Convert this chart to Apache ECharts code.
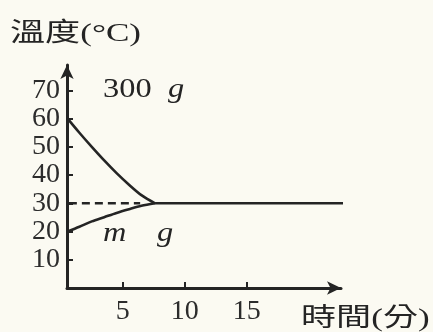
<!DOCTYPE html>
<html>
<head>
<meta charset="utf-8">
<script src="https://cdn.jsdelivr.net/npm/echarts@6/dist/echarts.min.js"></script>
<style>
  html, body { margin: 0; padding: 0; background: #fbfaf2; }
  #chart { width: 433px; height: 332px; }
</style>
</head>
<body>
<div id="chart"></div>
<script>
// Tick values shown on each axis
const timeTicks = [5, 10, 15];
const tempTicks = [10, 20, 30, 40, 50, 60, 70];

// Sample times (minutes) for the two cooling / warming curves
const sampleTime = [0.55, 1.5, 2.5, 3.5, 4.5, 5.5, 6.5, 7.6];

// Hot water (300 g) cooling from 60 °C toward the final temperature
const hotTemp = [60, 55.0, 50.0, 45.2, 40.7, 36.6, 32.9, 30];

// Cold water (m g) warming from 20 °C toward the final temperature
const coldTemp = [20, 21.7, 23.6, 25.1, 26.6, 27.9, 29.1, 30];

// Both bodies of water held at the final temperature
const finalTime = [7.6, 23.1];
const finalTemp = [30, 30];

// Dashed reference at the equilibrium temperature
const refTime = [0.65, 6.4];
const refTemp = [30, 30];

const ink = '#242424';
const serif = "'Liberation Serif', 'Noto Sans CJK TC', serif";

const pairs = (xs, ys) => xs.map((x, i) => [x, ys[i]]);

const chart = echarts.init(document.getElementById('chart'), null, { renderer: 'canvas' });

const axisCommon = {
  type: 'value',
  splitLine: { show: false },
  axisLine: {
    show: true,
    lineStyle: { color: ink, width: 3 },
    symbol: ['none', 'arrow'],
    symbolSize: [10, 14]
  },
  axisTick: { show: true, inside: true, length: 6, lineStyle: { color: ink, width: 2 } },
  axisLabel: { color: '#2c2c2c', fontFamily: serif, fontSize: 28 }
};

const curve = (data, extra) => Object.assign({
  type: 'line',
  data: data,
  symbol: 'none',
  clip: false,
  lineStyle: { color: ink, width: 2.6 }
}, extra);

chart.setOption({
  backgroundColor: '#fbfaf2',
  animation: false,
  grid: { left: 67, right: 92, top: 65, bottom: 44, containLabel: false },
  xAxis: Object.assign({}, axisCommon, {
    min: 0.5,
    max: 22.6,
    axisTick: Object.assign({}, axisCommon.axisTick, { customValues: timeTicks }),
    axisLabel: Object.assign({}, axisCommon.axisLabel, { customValues: timeTicks, margin: 10 })
  }),
  yAxis: Object.assign({}, axisCommon, {
    min: 0,
    max: 79,
    axisTick: Object.assign({}, axisCommon.axisTick, { customValues: tempTicks }),
    axisLabel: Object.assign({}, axisCommon.axisLabel, { customValues: tempTicks, margin: 7 })
  }),
  series: [
    curve(pairs(sampleTime, hotTemp), { smooth: 0.3 }),
    curve(pairs(sampleTime, coldTemp), { smooth: 0.3 }),
    curve(pairs(finalTime, finalTemp)),
    curve(pairs(refTime, refTemp), { lineStyle: { color: ink, width: 2.5, type: [8, 5] } })
  ],
  graphic: [
    {
      type: 'text', x: 10, y: 34, scaleX: 1.35,
      style: { text: '溫度(°C)', font: '26px ' + serif, fill: ink, align: 'left', verticalAlign: 'middle' }
    },
    {
      type: 'text', x: 301, y: 319, scaleX: 1.35,
      style: { text: '時間(分)', font: '26px ' + serif, fill: ink, align: 'left', verticalAlign: 'middle' }
    },
    {
      type: 'text', x: 103, y: 90, scaleX: 1.2,
      style: { text: '300', font: '27px ' + serif, fill: ink, align: 'left', verticalAlign: 'middle' }
    },
    {
      type: 'text', x: 168, y: 90, scaleX: 1.2,
      style: { text: 'g', font: 'italic 27px ' + serif, fill: ink, align: 'left', verticalAlign: 'middle' }
    },
    {
      type: 'text', x: 103, y: 234, scaleX: 1.2,
      style: { text: 'm', font: 'italic 27px ' + serif, fill: ink, align: 'left', verticalAlign: 'middle' }
    },
    {
      type: 'text', x: 157, y: 234, scaleX: 1.2,
      style: { text: 'g', font: 'italic 27px ' + serif, fill: ink, align: 'left', verticalAlign: 'middle' }
    }
  ]
});
</script>
</body>
</html>
